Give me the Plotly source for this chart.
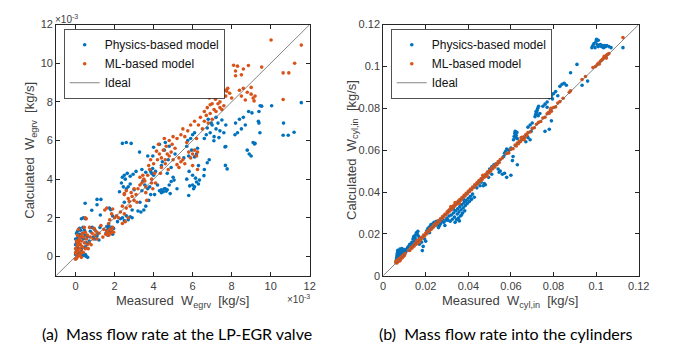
import plotly.graph_objects as go

# ---------------- data (left: units of 1e-3 kg/s) ----------------
phys_egrv = [
    (0.00,0.10),(0.05,0.30),(0.10,0.50),(0.05,0.70),(0.10,0.90),(0.15,1.10),(0.10,1.30),(0.20,0.80),(0.25,0.60),(0.30,1.00),
    (0.20,1.45),(0.35,1.20),(0.40,0.90),(0.30,0.40),(0.45,1.35),(0.50,1.10),(0.55,0.70),(0.50,0.50),(0.60,1.00),(0.30,1.95),
    (0.40,2.00),(0.50,1.95),(0.00,0.60),(0.15,0.20),(0.45,0.05),(0.55,0.00),(0.62,-0.05),(0.50,0.10),(0.35,0.05),(0.49,2.75),
    (0.05,1.20),(0.12,1.00),(0.20,1.15),(0.00,0.90),(0.08,0.45),(0.25,1.35),(0.38,1.50),
    (0.76,1.30),(0.85,1.50),(0.97,1.40),(0.83,2.39),(1.00,0.90),(1.10,1.05),(1.20,0.85),(0.90,1.00),(1.10,2.95),(1.30,2.95),
    (1.10,2.67),(1.27,2.14),(0.70,0.80),(1.15,1.20),(1.25,1.50),
    (1.56,1.20),(1.60,1.35),(1.65,1.10),(1.70,1.45),(1.75,1.30),(1.80,1.40),(1.85,1.25),(1.90,1.15),(1.73,2.50),(1.80,2.42),
    (1.90,2.09),(1.60,1.55),(1.70,1.60),(1.95,1.45),(1.85,1.50),
    (2.30,1.95),(2.40,2.00),(2.50,1.85),(2.60,2.10),(2.70,1.90),(2.80,2.05),(2.90,2.00),(2.40,4.10),(2.50,4.20),(2.65,4.30),
    (2.80,4.15),(2.95,4.25),(2.25,3.35),(2.45,3.60),(2.60,3.50),(2.80,3.75),(3.00,3.45),(2.50,2.80),(2.90,2.40),(2.15,1.80),
    (2.40,5.85),(2.60,5.90),(2.85,5.85),(2.35,3.80),(2.55,4.00),(2.70,3.60),
    (3.20,2.35),(3.35,2.30),(3.50,2.40),(3.40,3.40),(3.55,3.70),(3.70,3.50),(3.45,3.90),(3.60,2.60),(3.75,2.90),(3.85,3.20),
    (3.90,4.30),(4.00,4.20),(4.10,4.40),(3.30,2.80),(3.80,3.60),(3.28,5.40),(3.70,5.20),(3.96,5.20),(3.85,4.40),(3.10,4.40),
    (3.40,4.50),(3.60,4.35),(3.95,4.55),
    (4.30,3.40),(4.40,3.45),(4.50,3.35),(4.60,3.50),(4.70,3.45),(4.40,3.30),(4.55,3.50),(4.65,3.38),(4.05,3.20),(4.20,3.70),
    (4.90,3.88),(4.80,3.70),(4.40,4.70),(4.45,4.90),(4.55,5.50),(4.00,5.65),(4.30,5.80),(4.60,5.90),(4.80,5.70),(4.70,4.30),
    (5.00,4.10),(4.75,5.00),(4.90,4.60),(5.10,5.30),(4.85,3.25),(5.20,3.50),(5.05,3.95),
    (5.55,5.10),(5.80,5.20),(6.10,5.15),(5.70,4.00),(6.00,4.20),(5.70,5.70),(5.75,6.00),(6.00,6.30),(5.90,6.10),(6.10,6.40),
    (5.95,5.50),(6.20,5.30),(6.25,5.60),(5.82,4.40),(6.00,3.70),(6.10,3.60),(6.20,3.85),(6.30,3.75),(6.05,3.50),(6.35,3.95),
    (6.15,4.05),(5.80,3.15),(5.85,3.65),(6.58,4.18),(6.30,4.70),(6.60,4.50),
    (6.60,6.10),(6.75,6.65),(6.90,6.40),(7.00,6.80),(7.10,6.20),(7.20,6.60),(7.30,6.90),(7.40,6.50),(7.50,7.06),(7.09,5.99),
    (6.80,7.10),(6.70,6.30),(7.60,6.40),(7.70,6.80),(7.20,7.20),(6.85,5.00),(6.75,4.85),(7.68,4.71),(7.77,4.53),(7.70,5.69),
    (7.66,5.67),(6.95,6.90),(7.35,6.15),
    (8.17,6.30),(8.20,6.90),(8.40,7.10),(8.50,6.60),(8.60,7.20),(8.30,6.40),(8.70,6.80),(8.87,7.50),(9.04,7.43),(9.37,7.00),
    (9.46,7.80),(9.40,7.50),(9.54,7.78),(10.05,7.80),(11.57,7.96),(8.90,5.30),(8.80,5.50),(9.00,5.20),(9.20,5.85),(9.17,5.82),
    (9.10,5.90),(10.66,6.90),(10.64,6.27),(10.90,6.27),(11.20,6.43),(9.40,6.90),(9.45,6.40),
]

ml_egrv = [
    (0.00,-0.15),(0.05,-0.10),(0.10,0.00),(0.05,0.10),(0.15,0.20),(0.10,0.30),(0.00,0.40),(0.20,0.05),(0.25,0.15),(0.20,0.40),
    (0.10,0.55),(0.15,0.70),(0.25,0.60),(0.30,0.30),(0.35,0.50),(0.30,0.80),(0.20,0.95),(0.10,1.10),(0.40,0.20),(0.45,0.70),
    (0.50,0.40),(0.55,0.90),(0.40,1.00),(0.35,1.20),(0.50,1.25),(0.60,0.60),(0.05,0.80),(0.15,1.40),(0.30,-0.05),(0.45,1.50),
    (0.55,1.95),(0.50,2.00),(0.00,0.20),(0.08,0.65),(0.18,0.85),(0.28,1.05),
    (0.65,0.40),(0.70,0.70),(0.75,1.00),(0.80,0.60),(0.85,1.20),(0.90,0.90),(0.95,1.45),(1.00,1.10),(1.05,1.30),(1.10,0.90),
    (1.20,1.20),(1.30,1.60),(1.40,1.00),(1.45,1.40),(0.72,1.50),(0.60,1.10),
    (1.55,1.15),(1.60,1.30),(1.65,1.25),(1.70,1.10),(1.75,1.40),(1.80,1.20),(1.85,1.35),(1.90,1.50),(1.95,1.25),(1.70,1.70),
    (1.75,1.90),(1.60,2.50),(1.50,2.40),(1.85,2.20),(2.00,2.00),(2.10,2.10),(1.90,2.45),
    (2.30,2.30),(2.40,2.60),(2.50,2.20),(2.60,2.50),(2.40,1.70),(2.55,1.80),(2.70,2.00),(2.80,2.60),(2.90,3.10),(3.00,2.90),
    (2.50,3.20),(2.60,3.40),(2.70,3.00),(2.85,3.30),(3.10,3.20),(2.50,3.25),(3.00,3.50),(2.20,2.00),(2.75,2.85),(3.15,2.80),
    (3.20,3.50),(3.30,3.70),(3.40,3.80),(3.50,4.00),(3.60,3.60),(3.70,4.20),(3.80,4.50),(3.90,4.00),(4.00,4.80),(3.96,3.50),
    (3.45,4.20),(3.55,3.90),(3.75,4.70),(3.85,5.00),(4.05,4.30),(3.30,4.10),(3.60,3.30),(4.10,3.80),(3.90,3.80),(3.65,2.90),
    (4.20,5.00),(4.30,5.30),(4.40,5.10),(4.50,5.50),(4.60,5.00),(4.70,5.30),(4.80,5.20),(4.90,5.40),(5.00,5.00),(4.40,4.60),
    (4.60,4.80),(4.25,5.80),(4.55,6.10),(4.80,6.00),(5.10,5.60),(5.20,4.75),(4.35,4.30),(4.75,4.50),(5.00,6.20),(4.65,5.70),
    (4.95,5.80),(4.15,5.45),
    (5.30,5.10),(5.40,4.90),(5.50,5.00),(5.60,4.80),(5.30,4.60),(5.20,6.10),(5.40,6.30),(5.50,6.60),(5.60,6.20),(5.75,6.50),
    (5.90,5.10),(6.00,5.30),(6.10,5.50),(6.20,5.20),(6.25,5.40),(6.00,4.70),(6.25,4.50),(5.90,6.80),(6.10,7.00),(6.30,6.80),
    (6.40,7.20),(5.80,5.40),(5.70,5.90),(6.20,6.10),
    (6.50,6.60),(6.60,7.00),(6.70,7.30),(6.80,6.90),(6.90,7.40),(7.00,7.10),(7.10,7.60),(6.75,7.70),(6.90,7.85),(7.20,7.50),
    (7.30,7.90),(7.40,7.70),(7.50,7.60),(7.17,8.14),(6.85,8.20),(7.00,7.90),(7.70,8.30),(7.75,8.55),(7.80,8.70),(7.60,7.80),
    (6.60,7.50),(7.40,8.00),
    (8.10,9.90),(8.20,9.60),(8.30,9.85),(8.50,9.40),(8.60,9.70),(8.20,9.35),(8.86,9.88),(9.54,9.80),(7.90,8.45),(8.00,8.20),
    (8.40,8.60),(8.50,8.30),(8.70,8.10),(8.80,8.50),(9.00,8.40),(9.10,8.20),(9.20,8.30),(9.00,8.75),(9.15,8.05),(8.60,8.70),
    (10.02,11.20),(11.57,10.94),(11.23,10.00),(10.64,9.50),(10.93,9.50),(10.64,8.12),(7.70,8.60),
]

# ---------------- data (right: kg/s) ----------------
phys_cyl = [
    (0.0060,0.0065),(0.0062,0.0075),(0.0063,0.0085),(0.0065,0.0095),(0.0066,0.0105),(0.0068,0.0115),(0.0070,0.0080),(0.0072,0.0090),
    (0.0073,0.0100),(0.0075,0.0110),(0.0076,0.0120),(0.0078,0.0085),(0.0080,0.0095),(0.0082,0.0105),(0.0084,0.0115),(0.0085,0.0125),
    (0.0087,0.0090),(0.0090,0.0100),(0.0092,0.0110),(0.0094,0.0120),(0.0096,0.0105),(0.0098,0.0115),(0.0100,0.0125),(0.0103,0.0120),
    (0.0106,0.0115),(0.0064,0.0070),(0.0069,0.0122),(0.0079,0.0127),(0.0088,0.0130),(0.0070,0.0072),
    (0.0110,0.0125),(0.0115,0.0135),(0.0120,0.0140),(0.0125,0.0150),(0.0130,0.0145),(0.0135,0.0160),(0.0140,0.0175),(0.0143,0.0185),
    (0.0146,0.0189),(0.0150,0.0181),(0.0153,0.0195),(0.0156,0.0205),(0.0160,0.0200),(0.0163,0.0212),(0.0166,0.0190),(0.0170,0.0180),
    (0.0175,0.0170),(0.0180,0.0160),(0.0184,0.0120),(0.0188,0.0140),(0.0170,0.0150),(0.0195,0.0175),(0.0200,0.0165),(0.0155,0.0170),
    (0.0148,0.0165),(0.0138,0.0150),
    (0.0205,0.0215),(0.0210,0.0225),(0.0215,0.0230),(0.0220,0.0235),(0.0225,0.0245),(0.0230,0.0228),(0.0235,0.0250),(0.0240,0.0255),
    (0.0245,0.0240),(0.0250,0.0260),(0.0255,0.0245),(0.0260,0.0230),(0.0265,0.0240),(0.0270,0.0250),(0.0275,0.0262),(0.0280,0.0270),
    (0.0285,0.0255),(0.0290,0.0240),(0.0295,0.0265),(0.0218,0.0205),(0.0262,0.0255),
    (0.0300,0.0275),(0.0305,0.0265),(0.0310,0.0285),(0.0315,0.0260),(0.0320,0.0290),(0.0325,0.0270),(0.0330,0.0300),(0.0335,0.0280),
    (0.0340,0.0310),(0.0345,0.0268),(0.0348,0.0295),(0.0350,0.0320),(0.0353,0.0275),(0.0356,0.0305),(0.0360,0.0330),(0.0363,0.0285),
    (0.0366,0.0315),(0.0370,0.0340),(0.0373,0.0300),(0.0376,0.0325),(0.0380,0.0350),(0.0383,0.0310),(0.0386,0.0335),(0.0390,0.0360),
    (0.0395,0.0345),(0.0400,0.0370),(0.0405,0.0355),(0.0410,0.0380),(0.0415,0.0365),(0.0420,0.0390),(0.0428,0.0375),(0.0338,0.0255),
    (0.0358,0.0262),(0.0368,0.0290),(0.0378,0.0365),(0.0340,0.0340),(0.0330,0.0318),
    (0.0440,0.0420),(0.0445,0.0440),(0.0450,0.0450),(0.0455,0.0430),(0.0460,0.0447),(0.0470,0.0430),(0.0475,0.0440),(0.0480,0.0435),
    (0.0490,0.0495),(0.0500,0.0510),(0.0510,0.0520),(0.0520,0.0530),(0.0530,0.0535),(0.0540,0.0510),(0.0545,0.0495),(0.0550,0.0500),
    (0.0560,0.0485),(0.0570,0.0490),(0.0580,0.0470),(0.0600,0.0480),(0.0630,0.0530),(0.0495,0.0470),(0.0510,0.0485),
    (0.0566,0.0570),(0.0570,0.0585),(0.0575,0.0595),(0.0580,0.0605),(0.0590,0.0600),(0.0600,0.0610),(0.0607,0.0550),(0.0610,0.0570),
    (0.0612,0.0650),(0.0615,0.0665),(0.0618,0.0680),(0.0620,0.0690),(0.0625,0.0670),(0.0630,0.0655),(0.0622,0.0660),(0.0628,0.0685),
    (0.0640,0.0640),(0.0650,0.0660),(0.0670,0.0640),(0.0680,0.0660),(0.0690,0.0650),(0.0695,0.0690),(0.0680,0.0710),(0.0690,0.0720),
    (0.0700,0.0730),
    (0.0713,0.0760),(0.0716,0.0770),(0.0720,0.0780),(0.0723,0.0790),(0.0726,0.0800),(0.0730,0.0810),(0.0718,0.0785),(0.0728,0.0765),
    (0.0736,0.0775),(0.0750,0.0810),(0.0760,0.0820),(0.0770,0.0830),(0.0760,0.0690),(0.0780,0.0700),(0.0790,0.0740),(0.0780,0.0850),
    (0.0790,0.0860),(0.0800,0.0870),(0.0810,0.0880),(0.0820,0.0860),(0.0770,0.0805),(0.0795,0.0845),
    (0.0830,0.0905),(0.0840,0.0915),(0.0850,0.0920),(0.0860,0.0910),(0.0880,0.0970),(0.0910,0.1010),(0.0934,0.0910),(0.0960,0.0930),
    (0.0980,0.1090),(0.0985,0.1100),(0.0990,0.1110),(0.1000,0.1120),(0.1005,0.1105),(0.1010,0.1095),(0.1015,0.1100),(0.1020,0.1105),
    (0.1025,0.1095),(0.1030,0.1100),(0.1035,0.1090),(0.1040,0.1100),(0.1045,0.1095),(0.1050,0.1100),(0.1060,0.1095),(0.1070,0.1090),
    (0.1002,0.1130),(0.1010,0.1125),(0.1126,0.1090),(0.0995,0.1090),
]

ml_cyl = [
    (0.0060,0.0062),(0.0063,0.0066),(0.0065,0.0061),(0.0068,0.0070),(0.0070,0.0067),(0.0072,0.0075),(0.0075,0.0072),(0.0077,0.0079),
    (0.0080,0.0076),(0.0082,0.0085),(0.0085,0.0083),(0.0087,0.0090),(0.0090,0.0086),(0.0092,0.0095),(0.0095,0.0092),(0.0098,0.0101),
    (0.0100,0.0097),(0.0103,0.0106),(0.0066,0.0073),(0.0079,0.0071),(0.0061,0.0069),(0.0074,0.0081),
    (0.0120,0.0122),(0.0125,0.0121),(0.0130,0.0134),(0.0135,0.0131),(0.0140,0.0143),(0.0145,0.0141),(0.0150,0.0154),(0.0155,0.0150),
    (0.0160,0.0163),(0.0163,0.0158),(0.0167,0.0171),(0.0170,0.0166),(0.0173,0.0178),(0.0176,0.0172),(0.0180,0.0184),(0.0185,0.0181),
    (0.0190,0.0194),(0.0195,0.0190),(0.0200,0.0204),(0.0158,0.0167),(0.0168,0.0160),
    (0.0205,0.0200),(0.0210,0.0213),(0.0215,0.0212),(0.0220,0.0224),(0.0225,0.0221),(0.0230,0.0233),(0.0235,0.0231),(0.0240,0.0244),
    (0.0245,0.0241),(0.0250,0.0253),(0.0255,0.0251),(0.0260,0.0264),(0.0265,0.0260),(0.0270,0.0273),(0.0275,0.0272),(0.0280,0.0284),
    (0.0285,0.0281),(0.0290,0.0294),(0.0295,0.0291),
    (0.0300,0.0304),(0.0303,0.0300),(0.0306,0.0310),(0.0310,0.0307),(0.0313,0.0317),(0.0316,0.0313),(0.0320,0.0324),(0.0323,0.0320),
    (0.0326,0.0330),(0.0330,0.0327),(0.0333,0.0337),(0.0336,0.0333),(0.0340,0.0344),(0.0343,0.0340),(0.0346,0.0350),(0.0350,0.0347),
    (0.0353,0.0357),(0.0356,0.0353),(0.0360,0.0364),(0.0365,0.0361),(0.0370,0.0374),(0.0375,0.0372),(0.0380,0.0384),(0.0385,0.0381),
    (0.0390,0.0394),(0.0395,0.0391),(0.0318,0.0330),(0.0338,0.0350),(0.0358,0.0345),
    (0.0400,0.0404),(0.0405,0.0401),(0.0410,0.0414),(0.0415,0.0411),(0.0420,0.0424),(0.0425,0.0421),(0.0430,0.0434),(0.0435,0.0431),
    (0.0440,0.0444),(0.0445,0.0441),(0.0450,0.0455),(0.0455,0.0451),(0.0460,0.0464),(0.0465,0.0460),(0.0470,0.0474),(0.0475,0.0471),
    (0.0480,0.0484),(0.0485,0.0481),(0.0490,0.0494),(0.0495,0.0491),(0.0500,0.0504),(0.0505,0.0500),(0.0510,0.0514),(0.0515,0.0511),
    (0.0520,0.0524),(0.0525,0.0520),(0.0530,0.0534),(0.0535,0.0531),(0.0540,0.0545),(0.0545,0.0541),(0.0550,0.0555),(0.0560,0.0563),
    (0.0468,0.0480),(0.0488,0.0475),
    (0.0580,0.0584),(0.0590,0.0587),(0.0600,0.0604),(0.0610,0.0607),(0.0620,0.0624),(0.0625,0.0620),(0.0630,0.0634),(0.0635,0.0631),
    (0.0640,0.0644),(0.0645,0.0641),(0.0650,0.0655),(0.0655,0.0651),(0.0660,0.0664),(0.0665,0.0661),(0.0670,0.0675),(0.0675,0.0671),
    (0.0680,0.0684),(0.0690,0.0687),(0.0700,0.0704),(0.0710,0.0707),(0.0720,0.0724),(0.0648,0.0660),(0.0662,0.0650),
    (0.0730,0.0733),(0.0740,0.0737),(0.0750,0.0754),(0.0760,0.0757),(0.0770,0.0774),(0.0775,0.0779),(0.0780,0.0777),(0.0785,0.0790),
    (0.0790,0.0786),(0.0800,0.0804),(0.0810,0.0807),(0.0820,0.0825),(0.0830,0.0832),(0.0845,0.0848),(0.0788,0.0800),
    (0.0874,0.0877),(0.0880,0.0884),(0.0934,0.0938),(0.0950,0.0952),(0.0985,0.0995),(0.0997,0.1000),(0.1005,0.1008),(0.1010,0.1015),
    (0.1015,0.1012),(0.1020,0.1025),(0.1025,0.1030),(0.1030,0.1034),(0.1035,0.1040),(0.1040,0.1045),(0.1045,0.1048),(0.1050,0.1055),
    (0.1055,0.1058),(0.1060,0.1062),(0.1038,0.1048),(0.1048,0.1040),(0.1126,0.1138),
]

ideal_egrv = [-1, 12]
ideal_cyl = [0, 0.12]
ticks_egrv = [0, 2, 4, 6, 8, 10, 12]
ticks_cyl = [0, 0.02, 0.04, 0.06, 0.08, 0.1, 0.12]
tick_text_cyl = ["0", "0.02", "0.04", "0.06", "0.08", "0.1", "0.12"]

BLUE = "#0072BD"
ORANGE = "#D95319"
AX = "#262626"
TXT = "#404040"
FONT = "Liberation Sans, Arial, sans-serif"
MS = 3.6

def xs(p): return [a for a, b in p]
def ys(p): return [b for a, b in p]

fig = go.Figure()
fig.add_trace(go.Scatter(x=xs(phys_egrv), y=ys(phys_egrv), mode="markers", name="Physics-based model",
                         marker=dict(color=BLUE, size=MS), xaxis="x", yaxis="y", legend="legend"))
fig.add_trace(go.Scatter(x=xs(ml_egrv), y=ys(ml_egrv), mode="markers", name="ML-based model",
                         marker=dict(color=ORANGE, size=MS), xaxis="x", yaxis="y", legend="legend"))
fig.add_trace(go.Scatter(x=ideal_egrv, y=ideal_egrv, mode="lines", name="Ideal",
                         line=dict(color="#666666", width=0.8), xaxis="x", yaxis="y", legend="legend"))
fig.add_trace(go.Scatter(x=xs(phys_cyl), y=ys(phys_cyl), mode="markers", name="Physics-based model",
                         marker=dict(color=BLUE, size=MS), xaxis="x2", yaxis="y2", legend="legend2"))
fig.add_trace(go.Scatter(x=xs(ml_cyl), y=ys(ml_cyl), mode="markers", name="ML-based model",
                         marker=dict(color=ORANGE, size=MS), xaxis="x2", yaxis="y2", legend="legend2"))
fig.add_trace(go.Scatter(x=ideal_cyl, y=ideal_cyl, mode="lines", name="Ideal",
                         line=dict(color="#666666", width=0.8), xaxis="x2", yaxis="y2", legend="legend2"))

W, H = 676, 350
def fx(px): return px / W
def fy(py): return 1 - py / H

axis_common = dict(showline=True, linecolor=AX, linewidth=0.8, mirror="allticks", ticks="inside",
                   ticklen=4, tickcolor=AX, tickwidth=0.8, showgrid=False, zeroline=False,
                   tickfont=dict(family=FONT, size=11, color=TXT))

fig.update_layout(
    width=W, height=H, margin=dict(l=0, r=0, t=0, b=0),
    paper_bgcolor="white", plot_bgcolor="white",
    font=dict(family=FONT, color=TXT),
    xaxis=dict(domain=[fx(46), fx(305)], range=[-1, 12], tickvals=ticks_egrv, anchor="y", **axis_common),
    yaxis=dict(domain=[fy(271), fy(11)], range=[-1, 12], tickvals=ticks_egrv, anchor="x", **axis_common),
    xaxis2=dict(domain=[fx(380), fx(641)], range=[0, 0.12], tickvals=ticks_cyl, ticktext=tick_text_cyl, anchor="y2", **axis_common),
    yaxis2=dict(domain=[fy(271), fy(11)], range=[0, 0.12], tickvals=ticks_cyl, ticktext=tick_text_cyl, anchor="x2", **axis_common),
    legend=dict(x=fx(54), y=fy(16), xanchor="left", yanchor="top", bgcolor="white", bordercolor=AX, borderwidth=0.8,
                font=dict(family=FONT, size=12, color="#111111"), tracegroupgap=0),
    legend2=dict(x=fx(388), y=fy(16), xanchor="left", yanchor="top", bgcolor="white", bordercolor=AX, borderwidth=0.8,
                 font=dict(family=FONT, size=12, color="#111111"), tracegroupgap=0),
    showlegend=True,
)

NB = "\u00a0"
ann = [
    dict(text=f"Calculated{NB}{NB}W<sub>egrv</sub>{NB}{NB}[kg/s]", x=fx(20), y=fy(141), textangle=-90, size=13),
    dict(text=f"Measured{NB}{NB}W<sub>egrv</sub>{NB}{NB}[kg/s]", x=fx(175), y=fy(298), textangle=0, size=13),
    dict(text=f"Calculated{NB}{NB}W<sub>cyl,in</sub>{NB}{NB}[kg/s]", x=fx(348), y=fy(141), textangle=-90, size=13),
    dict(text=f"Measured{NB}{NB}W<sub>cyl,in</sub>{NB}{NB}[kg/s]", x=fx(510), y=fy(298), textangle=0, size=13),
    dict(text="×10<sup>-3</sup>", x=fx(57), y=fy(5), textangle=0, size=10),
    dict(text="×10<sup>-3</sup>", x=fx(294), y=fy(295), textangle=0, size=10),
]
for a in ann:
    fig.add_annotation(text=a["text"], x=a["x"], y=a["y"], xref="paper", yref="paper", showarrow=False,
                       textangle=a["textangle"], xanchor="center", yanchor="middle",
                       font=dict(family=FONT, size=a["size"], color=TXT))

CAP = "Lato, Calibri, sans-serif"
fig.add_annotation(text=f"(a){NB}{NB}Mass flow rate at the LP-EGR valve", x=fx(170), y=fy(331), xref="paper", yref="paper",
                   showarrow=False, xanchor="center", yanchor="middle", font=dict(family=CAP, size=16, color="#000000"))
fig.add_annotation(text=f"(b){NB}{NB}Mass flow rate into the cylinders", x=fx(505), y=fy(331), xref="paper", yref="paper",
                   showarrow=False, xanchor="center", yanchor="middle", font=dict(family=CAP, size=16, color="#000000"))

fig.write_html("out.html")
